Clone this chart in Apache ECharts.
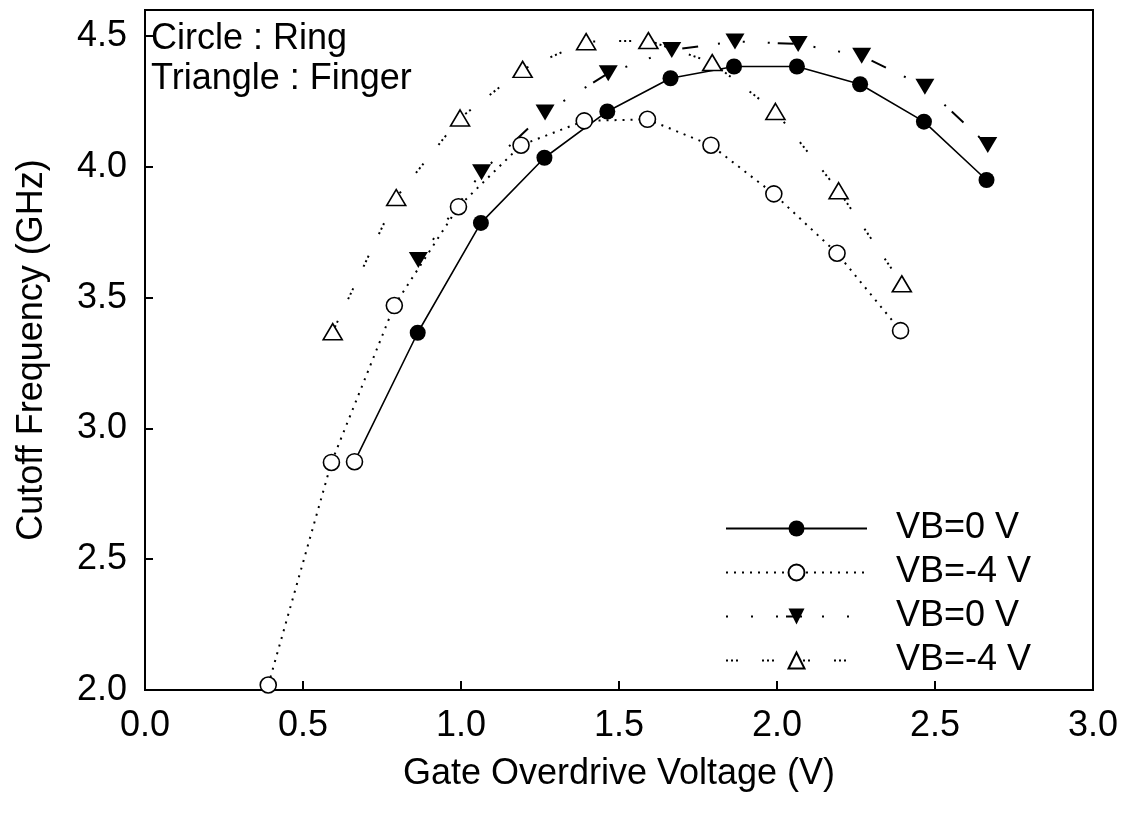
<!DOCTYPE html>
<html>
<head>
<meta charset="utf-8">
<script src="https://cdn.jsdelivr.net/npm/echarts@6/dist/echarts.min.js"></script>
<style>
  html, body { margin: 0; padding: 0; background: #fff; }
  #chart { width: 1126px; height: 820px; }
</style>
</head>
<body>
<div id="chart"></div>
<script>
// Gate overdrive voltage (V) and cutoff frequency (GHz) for each measured bias point
const ringVB0_x   = [0.663, 0.863, 1.063, 1.264, 1.463, 1.663, 1.864, 2.063, 2.263, 2.465, 2.663];
const ringVB0_y   = [2.873, 3.366, 3.786, 4.035, 4.212, 4.339, 4.384, 4.384, 4.316, 4.173, 3.950];

const ringVB4_x   = [0.390, 0.590, 0.789, 0.992, 1.190, 1.390, 1.590, 1.791, 1.990, 2.190, 2.391];
const ringVB4_y   = [2.019, 2.870, 3.470, 3.848, 4.083, 4.176, 4.182, 4.083, 3.897, 3.670, 3.374];

const fingerVB0_x = [0.865, 1.065, 1.266, 1.466, 1.667, 1.867, 2.067, 2.268, 2.468, 2.667];
const fingerVB0_y = [3.644, 3.980, 4.208, 4.358, 4.447, 4.480, 4.470, 4.425, 4.307, 4.084];

const fingerVB4_x = [0.594, 0.795, 0.997, 1.195, 1.396, 1.593, 1.795, 1.995, 2.195, 2.395];
const fingerVB4_y = [3.370, 3.883, 4.187, 4.373, 4.479, 4.483, 4.399, 4.212, 3.909, 3.553];

const xTicks = [0.0, 0.5, 1.0, 1.5, 2.0, 2.5, 3.0];
const yTicks = [2.0, 2.5, 3.0, 3.5, 4.0, 4.5];

const FONT = 'Liberation Sans, Arial, sans-serif';
const FS = 36;

function pairs(xs, ys) {
  return xs.map((x, i) => [x, ys[i]]);
}

// The first ring point at VB=0 V is drawn as an open circle
const ringVB0Data = pairs(ringVB0_x, ringVB0_y).map((p, i) =>
  i === 0 ? { value: p, itemStyle: { color: '#fff', borderColor: '#000', borderWidth: 1.6 } } : p
);

const chart = echarts.init(document.getElementById('chart'), null, { renderer: 'canvas' });

const option = {
  animation: false,
  backgroundColor: '#fff',
  grid: {
    left: 145, right: 33, top: 10, bottom: 130,
    show: true, borderColor: '#000', borderWidth: 2, backgroundColor: 'transparent'
  },
  xAxis: {
    type: 'value',
    min: xTicks[0], max: xTicks[xTicks.length - 1], interval: 0.5,
    name: 'Gate Overdrive Voltage (V)',
    nameLocation: 'middle', nameGap: 66,
    nameTextStyle: { fontFamily: FONT, fontSize: FS, color: '#000' },
    axisLine: { show: true, onZero: false, lineStyle: { color: '#000', width: 2 } },
    axisTick: { show: true, inside: true, length: 9, lineStyle: { color: '#000', width: 2 } },
    axisLabel: {
      margin: 18, fontFamily: FONT, fontSize: FS, color: '#000',
      formatter: v => v.toFixed(1)
    },
    splitLine: { show: false }
  },
  yAxis: {
    type: 'value',
    min: yTicks[0], max: 4.6, interval: 0.5,
    name: 'Cutoff Frequency (GHz)',
    nameLocation: 'middle', nameGap: 95,
    nameTextStyle: { fontFamily: FONT, fontSize: FS, color: '#000' },
    axisLine: { show: true, onZero: false, lineStyle: { color: '#000', width: 2 } },
    axisTick: { show: true, inside: true, length: 8, lineStyle: { color: '#000', width: 2 } },
    axisLabel: {
      margin: 18, fontFamily: FONT, fontSize: FS, color: '#000',
      showMaxLabel: false,
      formatter: v => (Math.abs(v * 2 - Math.round(v * 2)) < 1e-6 ? v.toFixed(1) : '')
    },
    splitLine: { show: false }
  },
  legend: {
    left: 725, top: 510, padding: 0,
    orient: 'vertical',
    itemWidth: 141, itemHeight: 20, itemGap: 7,
    textStyle: { fontFamily: FONT, fontSize: FS, color: '#000', lineHeight: 37, padding: [0, 0, 0, 24] },
    formatter: name => name.split('|')[0],
    data: ['VB=0 V|ring', 'VB=-4 V|ring', 'VB=0 V|finger', 'VB=-4 V|finger']
  },
  graphic: [
    {
      type: 'text', left: 151, top: 19, z: 10,
      style: {
        text: 'Circle : Ring\nTriangle : Finger',
        fontFamily: FONT, fontSize: FS, lineHeight: 40, fill: '#000'
      }
    }
  ],
  series: [
    {
      name: 'VB=0 V|ring', type: 'line',
      data: ringVB0Data,
      symbol: 'circle', symbolSize: 16,
      lineStyle: { color: '#000', width: 1.6, type: 'solid' },
      itemStyle: { color: '#000', borderColor: '#000', borderWidth: 0 }
    },
    {
      name: 'VB=-4 V|ring', type: 'line',
      data: pairs(ringVB4_x, ringVB4_y),
      symbol: 'circle', symbolSize: 16,
      lineStyle: { color: '#000', width: 2, type: [2, 6] },
      itemStyle: { color: '#fff', borderColor: '#000', borderWidth: 1.6 }
    },
    {
      name: 'VB=0 V|finger', type: 'line',
      data: pairs(fingerVB0_x, fingerVB0_y),
      symbol: 'triangle', symbolSize: [19, 16], symbolRotate: 180,
      lineStyle: { color: '#000', width: 2, type: [2, 23, 2, 23, 2, 8, 16, 20] },
      itemStyle: { color: '#000', borderColor: '#000', borderWidth: 0 }
    },
    {
      name: 'VB=-4 V|finger', type: 'line',
      data: pairs(fingerVB4_x, fingerVB4_y),
      symbol: 'triangle', symbolSize: [19, 16],
      lineStyle: { color: '#000', width: 2, type: [2, 3, 2, 3, 2, 24] },
      itemStyle: { color: '#fff', borderColor: '#000', borderWidth: 1.6 }
    }
  ]
};

chart.setOption(option);
</script>
</body>
</html>
